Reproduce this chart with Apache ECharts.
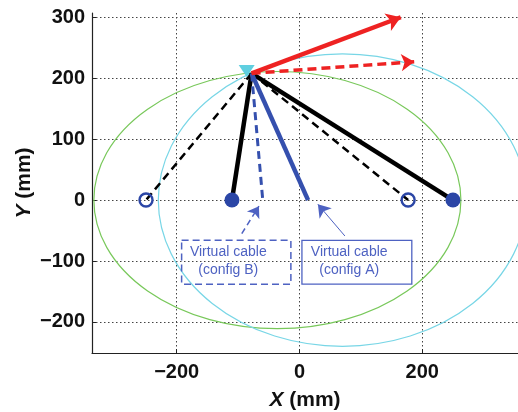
<!DOCTYPE html>
<html>
<head>
<meta charset="utf-8">
<script src="https://cdn.jsdelivr.net/npm/echarts@6/dist/echarts.min.js"></script>
<style>
  html, body { margin: 0; padding: 0; background: #fff; }
  #main { width: 518px; height: 412px; }
</style>
</head>
<body>
<div id="main"></div>
<script>
// ticks
const xTicks = [-200, 0, 200]
const yTicks = [-200, -100, 0, 100, 200, 300]

// cable geometry (mm)
const apex = [-78, 208]
const blackSolidEnds = [[-110, 0], [250, 0]]
const blackDashedEnds = [[-250, 0], [177, 0]]
const cableAEnd = [14, 0]
const cableBEnd = [-60, 2]
const forceSolidEnd = [165, 300]
const forceDashedEnd = [187, 227]
const triangleMark = [-86, 212]

// workspace ellipses: [cx, cy, rx, ry]
const greenEllipse = [-36, 0, 299, 211]
const cyanEllipse = [70, 0, 300, 240]

// annotations
const boxLabels = ['Virtual cable\n(config B)', 'Virtual cable\n(config A)']
const boxCorners = [[-192, -66, -14, -138], [4, -66, 183, -138]]
const boxTextPos = [[-116, -100], [81, -100]]
const boxDashed = [1, 0]
const arrowB = [[-94, -55], [-66, -10]]
const arrowA = [[74, -59], [30, -7]]

const FONT = 'Liberation Sans, Arial, Helvetica, sans-serif'
const BLUE = '#3550ae'
const NOTE = '#4e62c2'

const minus = v => String(v).replace('-', '\u2212')

function ellipseSeries (e, color) {
    return {
        type: 'custom',
        silent: true,
        clip: true,
        data: [e],
        renderItem: function (params, api) {
            const c = api.coord([api.value(0), api.value(1)])
            const s = api.size([api.value(2), api.value(3)])
            return {
                type: 'path',
                shape: {
                    pathData: 'M0 1 A1 1 0 1 0 2 1 A1 1 0 1 0 0 1 Z',
                    x: c[0] - s[0], y: c[1] - s[1],
                    width: 2 * s[0], height: 2 * s[1],
                    layout: 'cover'
                },
                style: { fill: 'none', stroke: color, lineWidth: 1.2 }
            }
        }
    }
}

function segs (ends, color, width, type, arrow, arrowSize) {
    return {
        type: 'lines',
        coordinateSystem: 'cartesian2d',
        silent: true,
        symbol: arrow ? ['none', 'arrow'] : ['none', 'none'],
        symbolSize: arrowSize || 10,
        lineStyle: { color: color, width: width, type: type, opacity: 1, cap: 'butt' },
        data: ends.map(e => ({ coords: [e[0], e[1]] }))
    }
}

const chart = echarts.init(document.getElementById('main'))
chart.setOption({
    animation: false,
    backgroundColor: '#fff',
    grid: { left: 92, right: 0, top: 13, bottom: 59, containLabel: false, outerBoundsMode: 'none' },
    xAxis: {
        type: 'value',
        min: -338, max: 356,
        name: '{i|X} (mm)',
        nameLocation: 'middle',
        nameGap: 37,
        nameMoveOverlap: false,
        nameTextStyle: {
            fontFamily: FONT, fontSize: 21, fontWeight: 'bold', color: '#111',
            rich: { i: { fontFamily: FONT, fontSize: 21, fontWeight: 'bold', fontStyle: 'italic', color: '#111' } }
        },
        axisLine: { show: true, onZero: false, lineStyle: { color: '#222', width: 1.2 } },
        axisTick: { show: true, inside: true, length: 4, customValues: xTicks, lineStyle: { color: '#222' } },
        axisLabel: {
            customValues: xTicks, margin: 9, formatter: minus,
            fontFamily: FONT, fontSize: 20, fontWeight: 'bold', color: '#111'
        },
        splitLine: { show: true, lineStyle: { color: '#444', width: 1, type: [1.5, 2.5] } }
    },
    yAxis: {
        type: 'value',
        min: -251, max: 307,
        name: '{i|Y} (mm)',
        nameLocation: 'middle',
        nameGap: 57,
        nameMoveOverlap: false,
        nameTextStyle: {
            fontFamily: FONT, fontSize: 21, fontWeight: 'bold', color: '#111',
            rich: { i: { fontFamily: FONT, fontSize: 21, fontWeight: 'bold', fontStyle: 'italic', color: '#111' } }
        },
        axisLine: { show: true, onZero: false, lineStyle: { color: '#222', width: 1.2 } },
        axisTick: { show: true, inside: true, length: 4, customValues: yTicks, lineStyle: { color: '#222' } },
        axisLabel: {
            customValues: yTicks, margin: 7, formatter: minus,
            fontFamily: FONT, fontSize: 20, fontWeight: 'bold', color: '#111'
        },
        splitLine: { show: true, lineStyle: { color: '#444', width: 1, type: [1.5, 2.5] } }
    },
    series: [
        ellipseSeries(greenEllipse, '#78c85a'),
        ellipseSeries(cyanEllipse, '#78d6e6'),
        segs(blackDashedEnds.map(e => [apex, e]), '#000', 2.5, [8, 5]),
        segs(blackSolidEnds.map(e => [apex, e]), '#000', 4.5, 'solid'),
        segs([[apex, cableBEnd]], BLUE, 3, [8, 5]),
        segs([[apex, cableAEnd]], BLUE, 4.5, 'solid'),
        {
            type: 'scatter',
            silent: true,
            symbol: 'triangle',
            symbolRotate: 180,
            symbolSize: [16, 12],
            itemStyle: { color: '#5fcfe0', opacity: 1 },
            data: [triangleMark]
        },
        segs([[apex, forceDashedEnd]], '#ee2222', 3.5, [9, 5], true, [11, 13]),
        segs([[apex, forceSolidEnd]], '#ee2222', 4.5, 'solid', true, [12, 14]),
        {
            type: 'scatter',
            silent: true,
            symbol: 'circle',
            symbolSize: 15,
            itemStyle: { color: '#2b46a6', opacity: 1 },
            data: blackSolidEnds
        },
        {
            type: 'scatter',
            silent: true,
            symbol: 'circle',
            symbolSize: 13,
            itemStyle: { color: 'rgba(255,255,255,0)', borderColor: '#2b46a6', borderWidth: 2.4, opacity: 1 },
            data: blackDashedEnds
        },
        segs([arrowB], NOTE, 1.5, [6, 4], true, [8, 11]),
        segs([arrowA], NOTE, 1, 'solid', true, [8, 12]),
        {
            type: 'custom',
            silent: true,
            data: boxCorners.map((b, i) => b.concat(boxTextPos[i], [boxDashed[i]])),
            renderItem: function (params, api) {
                const p0 = api.coord([api.value(0), api.value(1)])
                const p1 = api.coord([api.value(2), api.value(3)])
                const t = api.coord([api.value(4), api.value(5)])
                const dashed = api.value(6) === 1
                return {
                    type: 'group',
                    children: [{
                        type: 'rect',
                        shape: { x: p0[0], y: p0[1], width: p1[0] - p0[0], height: p1[1] - p0[1] },
                        style: { fill: 'none', stroke: NOTE, lineWidth: dashed ? 1.5 : 1.3, lineDash: dashed ? [7, 4] : null }
                    }, {
                        type: 'text',
                        style: {
                            text: boxLabels[params.dataIndex],
                            x: t[0], y: t[1],
                            align: 'center', verticalAlign: 'middle',
                            font: '14px ' + FONT, lineHeight: 18,
                            fill: NOTE
                        }
                    }]
                }
            }
        }
    ]
})
</script>
</body>
</html>
